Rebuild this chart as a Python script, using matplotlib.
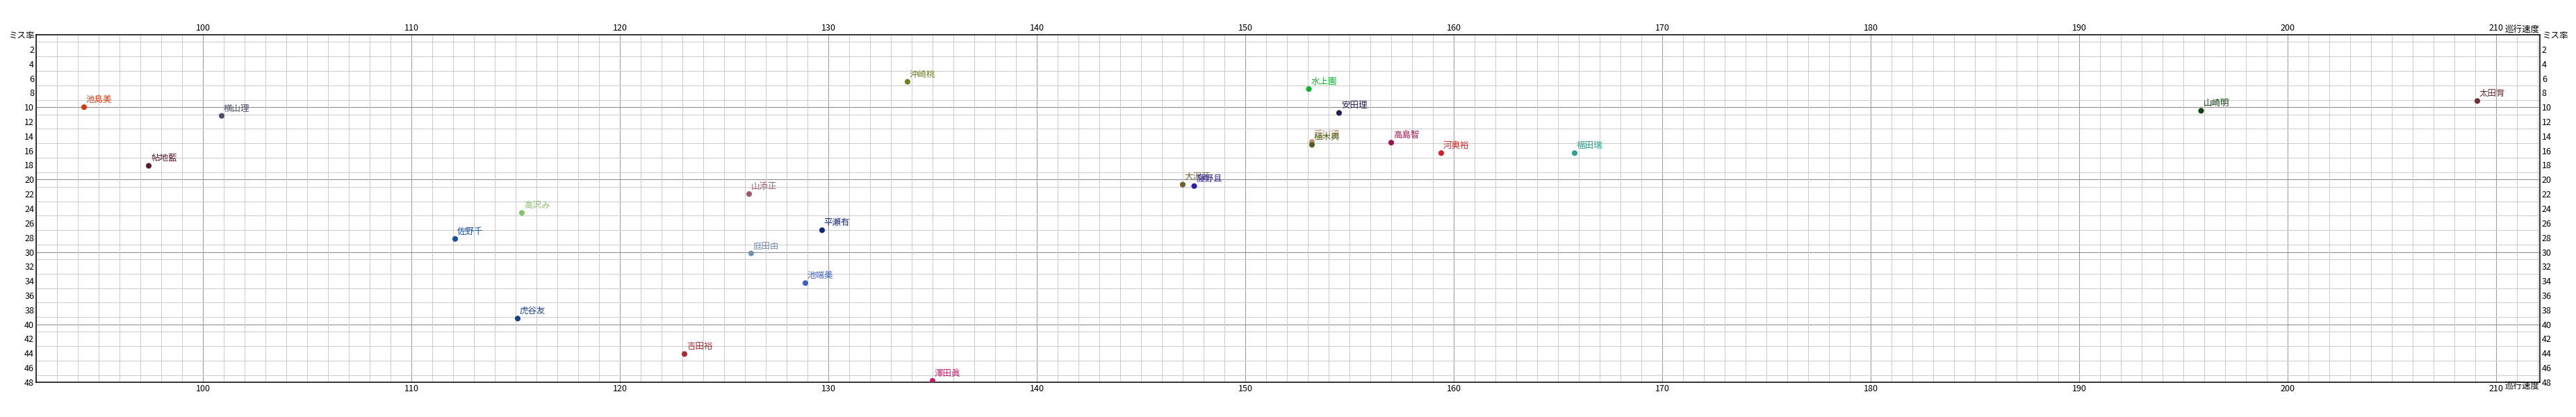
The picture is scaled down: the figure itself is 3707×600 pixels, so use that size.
import matplotlib
matplotlib.use("Agg")
import matplotlib.pyplot as plt
from matplotlib.ticker import MultipleLocator

plt.rcParams["font.family"] = ["Noto Sans CJK JP", "DejaVu Sans"]

# 巡行速度 (x) / ミス率 (y)
names = ["池島美", "横山理", "帖地藍", "佐野千", "高沢み", "平瀬有", "庭田由", "池端美",
         "虎谷友", "吉田裕", "澤田眞", "沖崎桃", "山添正", "大沢茜", "藤野且", "河奥裕",
         "水上園", "安田理", "荒川須", "植木典", "高島智", "福田瑞", "山崎明", "太田育"]
speed = [94.3, 100.9, 97.4, 112.1, 115.3, 129.7, 126.3, 128.9,
         115.1, 123.1, 135.0, 133.8, 126.2, 147.0, 147.55, 159.4,
         153.05, 154.5, 153.2, 153.2, 157.0, 165.8, 195.85, 209.1]
miss = [10.0, 11.2, 18.1, 28.2, 24.6, 27.0, 30.2, 34.3,
        39.2, 44.1, 47.8, 6.5, 22.0, 20.7, 20.9, 16.35,
        7.5, 10.8, 14.8, 15.2, 14.9, 16.35, 10.5, 9.15]
colors = ["#d03a10", "#4a5068", "#5a1a30", "#1a50a0", "#88c068", "#102878", "#7890b0", "#4060c0",
          "#1a4080", "#a03030", "#c02070", "#708020", "#a05878", "#706030", "#3020a0", "#d02020",
          "#10b030", "#202050", "#c09070", "#506020", "#a01050", "#30a090", "#104010", "#703030"]

x_ticks = list(range(100, 211, 10))
y_ticks = list(range(0, 49, 2))
y_labels = ["ミス率"] + [str(v) for v in y_ticks[1:]]

W, H = 3707, 600
fig = plt.figure(figsize=(W / 100, H / 100), dpi=100)
ax = fig.add_axes([52 / W, 50 / H, (3655 - 52) / W, 500 / H])

ax.set_xlim(92, 212.1)
ax.set_ylim(48, 0)

# 1px lines at 100 dpi
px = 0.72
ax.xaxis.set_minor_locator(MultipleLocator(1))
ax.yaxis.set_minor_locator(MultipleLocator(1))
ax.grid(which="minor", color="#cccccc", lw=px, zorder=0)
for v in range(100, 212, 10):
    ax.axvline(v, color="#999999", lw=px, zorder=0.5)
for v in range(10, 48, 10):
    ax.axhline(v, color="#888888", lw=px, zorder=0.5)
ax.set_axisbelow(True)

ax.set_xticks(x_ticks)
ax.set_yticks(y_ticks)
ax.set_yticklabels(y_labels)
ax.tick_params(axis="both", which="both", length=0, labelsize=9)
ax.tick_params(axis="x", top=True, labeltop=True, bottom=True, labelbottom=True, pad=2)
ax.tick_params(axis="y", left=True, labelleft=True, right=True, labelright=True, pad=2)
for s in ax.spines.values():
    s.set_color("black")
    s.set_linewidth(1.1)

ax.text(1.0, 1.0, "巡行速度", transform=ax.transAxes, ha="right", va="bottom", fontsize=9)
ax.text(1.0, 0.0, "巡行速度", transform=ax.transAxes, ha="right", va="top", fontsize=9)

ax.scatter(speed, miss, s=34, c=colors, zorder=3, linewidths=0)
for n, xv, yv, c in zip(names, speed, miss, colors):
    ax.annotate(n, (xv, yv), xytext=(2, 3), textcoords="offset points",
                color=c, fontsize=9, ha="left", va="bottom", zorder=4,
                arrowprops=dict(arrowstyle="-", color=c, lw=0.6, ls=":",
                                shrinkA=0, shrinkB=0))

fig.savefig("out.png", dpi=100)
